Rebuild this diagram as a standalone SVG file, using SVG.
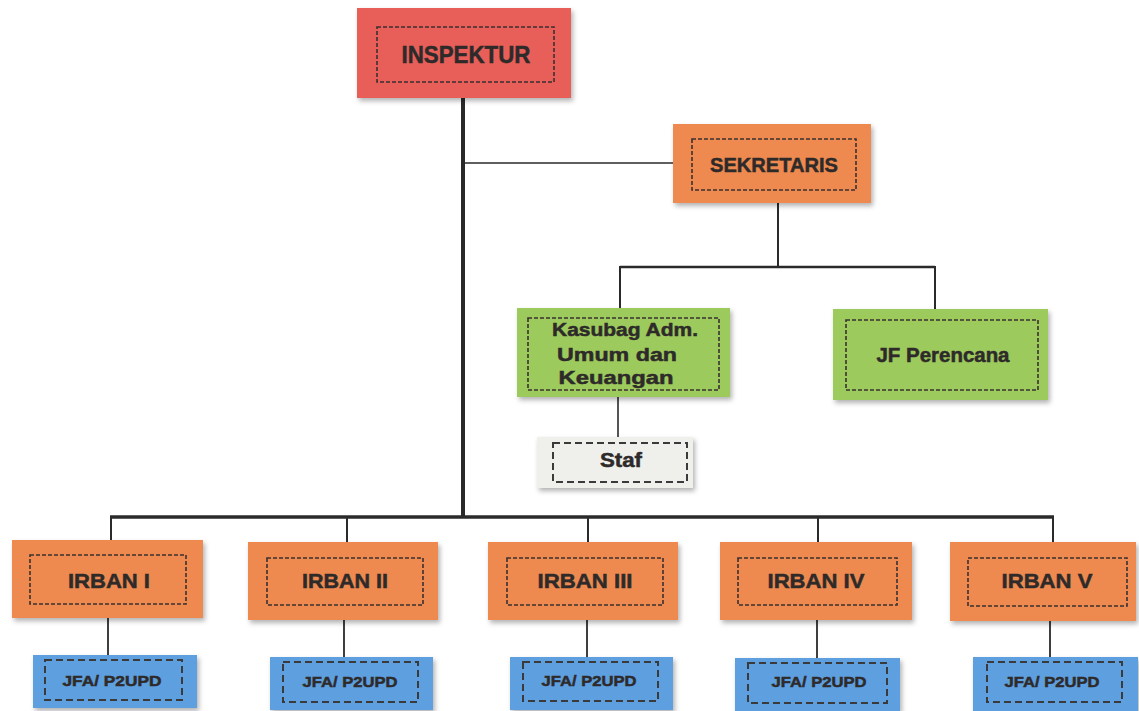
<svg xmlns="http://www.w3.org/2000/svg" width="1139" height="711" viewBox="0 0 1139 711">
<defs>
<filter id="sh" x="-10%" y="-15%" width="125%" height="140%">
<feDropShadow dx="2" dy="3" stdDeviation="2.5" flood-color="#000" flood-opacity="0.3"/>
</filter>
<style>
.red{fill:#e75e58;filter:url(#sh)}
.org{fill:#ee8a50;filter:url(#sh)}
.grn{fill:#9dca5c;filter:url(#sh)}
.blu{fill:#5d9fdf;filter:url(#sh)}
.gry{fill:#efefec;filter:url(#sh)}
.in{fill:none;stroke:#3a3030;stroke-width:1.6;stroke-dasharray:4 2}
.in2{fill:none;stroke:#3a3a3a;stroke-width:2;stroke-dasharray:7 4}
.t{font-family:"Liberation Sans",Arial,sans-serif;font-weight:bold;fill:#2e2a2a;stroke:#2e2a2a;stroke-width:0.5;text-anchor:middle}
.c{stroke:#2a2a2a;fill:none}
</style>
</defs>
<rect width="1139" height="711" fill="#ffffff"/>
<g id="connectors">
<line class="c" x1="463" y1="98" x2="463" y2="518" stroke-width="4"/>
<line class="c" x1="463" y1="163" x2="673" y2="163" stroke-width="1.6"/>
<line class="c" x1="778" y1="203" x2="778" y2="267" stroke-width="2"/>
<line class="c" x1="620" y1="267" x2="935" y2="267" stroke-width="2.5"/>
<line class="c" x1="620" y1="266" x2="620" y2="309" stroke-width="2"/>
<line class="c" x1="935" y1="266" x2="935" y2="309" stroke-width="2"/>
<line class="c" x1="618" y1="397" x2="618" y2="438" stroke-width="1.6"/>
<line class="c" x1="110" y1="517" x2="1054" y2="517" stroke-width="3.5"/>
<line class="c" x1="111" y1="516" x2="111" y2="541" stroke-width="2"/>
<line class="c" x1="347" y1="516" x2="347" y2="542" stroke-width="2"/>
<line class="c" x1="588" y1="516" x2="588" y2="542" stroke-width="2"/>
<line class="c" x1="818" y1="516" x2="818" y2="542" stroke-width="2"/>
<line class="c" x1="1053" y1="516" x2="1053" y2="542" stroke-width="2"/>
<line class="c" x1="108" y1="618" x2="108" y2="655" stroke-width="1.8"/>
<line class="c" x1="344" y1="620" x2="344" y2="657" stroke-width="1.8"/>
<line class="c" x1="587" y1="620" x2="587" y2="657" stroke-width="1.8"/>
<line class="c" x1="817" y1="620" x2="817" y2="658" stroke-width="1.8"/>
<line class="c" x1="1050" y1="621" x2="1050" y2="657" stroke-width="1.8"/>
</g>
<g id="inspektur">
<rect class="red" x="357" y="8" width="214" height="90"/>
<rect class="in" x="377" y="27" width="177" height="55"/>
<text class="t" x="466" y="63" font-size="24" textLength="129" lengthAdjust="spacingAndGlyphs">INSPEKTUR</text>
</g>
<g id="sekretaris">
<rect class="org" x="673" y="124" width="198" height="79"/>
<rect class="in" x="692" y="139" width="164" height="51"/>
<text class="t" x="774" y="172" font-size="21" textLength="128" lengthAdjust="spacingAndGlyphs">SEKRETARIS</text>
</g>
<g id="kasubag">
<rect class="grn" x="517" y="308" width="213" height="89"/>
<rect class="in" x="528" y="318" width="191" height="72"/>
<text class="t" x="625" y="336" font-size="19" textLength="146" lengthAdjust="spacingAndGlyphs">Kasubag Adm.</text>
<text class="t" x="617" y="361" font-size="19" textLength="120" lengthAdjust="spacingAndGlyphs">Umum dan</text>
<text class="t" x="616" y="384" font-size="19" textLength="115" lengthAdjust="spacingAndGlyphs">Keuangan</text>
</g>
<g id="jf-perencana">
<rect class="grn" x="833" y="309" width="215" height="91"/>
<rect class="in" x="846" y="320" width="192" height="70"/>
<text class="t" x="943" y="362" font-size="20" textLength="133" lengthAdjust="spacingAndGlyphs">JF Perencana</text>
</g>
<g id="staf">
<rect class="gry" x="537" y="437" width="156" height="51"/>
<rect class="in2" x="553" y="443" width="134" height="39"/>
<text class="t" x="621" y="467" font-size="20" textLength="42" lengthAdjust="spacingAndGlyphs">Staf</text>
</g>
<g id="irban-1">
<rect class="org" x="12" y="540" width="191" height="78"/>
<rect class="in" x="30" y="555" width="156" height="49"/>
<text class="t" x="109" y="588" font-size="20" textLength="82" lengthAdjust="spacingAndGlyphs">IRBAN I</text>
</g>
<g id="irban-2">
<rect class="org" x="248" y="542" width="190" height="78"/>
<rect class="in" x="267" y="558" width="156" height="47"/>
<text class="t" x="345" y="588" font-size="20" textLength="86" lengthAdjust="spacingAndGlyphs">IRBAN II</text>
</g>
<g id="irban-3">
<rect class="org" x="488" y="542" width="190" height="78"/>
<rect class="in" x="507" y="558" width="156" height="47"/>
<text class="t" x="585" y="588" font-size="20" textLength="95" lengthAdjust="spacingAndGlyphs">IRBAN III</text>
</g>
<g id="irban-4">
<rect class="org" x="720" y="542" width="192" height="78"/>
<rect class="in" x="738" y="558" width="159" height="47"/>
<text class="t" x="816" y="588" font-size="20" textLength="97" lengthAdjust="spacingAndGlyphs">IRBAN IV</text>
</g>
<g id="irban-5">
<rect class="org" x="950" y="542" width="186" height="79"/>
<rect class="in" x="968" y="558" width="159" height="48"/>
<text class="t" x="1047" y="588" font-size="20" textLength="91" lengthAdjust="spacingAndGlyphs">IRBAN V</text>
</g>
<g id="jfa-1">
<rect class="blu" x="33" y="655" width="164" height="53"/>
<rect class="in2" x="45" y="660" width="137" height="40"/>
<text class="t" x="112" y="686" font-size="15.5" textLength="99" lengthAdjust="spacingAndGlyphs">JFA/ P2UPD</text>
</g>
<g id="jfa-2">
<rect class="blu" x="270" y="657" width="163" height="53"/>
<rect class="in2" x="283" y="662" width="135" height="40"/>
<text class="t" x="350" y="687" font-size="15.5" textLength="95" lengthAdjust="spacingAndGlyphs">JFA/ P2UPD</text>
</g>
<g id="jfa-3">
<rect class="blu" x="510" y="657" width="163" height="53"/>
<rect class="in2" x="523" y="662" width="135" height="39"/>
<text class="t" x="589" y="686" font-size="15.5" textLength="95" lengthAdjust="spacingAndGlyphs">JFA/ P2UPD</text>
</g>
<g id="jfa-4">
<rect class="blu" x="735" y="658" width="165" height="53"/>
<rect class="in2" x="748" y="663" width="139" height="40"/>
<text class="t" x="819" y="687" font-size="15.5" textLength="95" lengthAdjust="spacingAndGlyphs">JFA/ P2UPD</text>
</g>
<g id="jfa-5">
<rect class="blu" x="973" y="657" width="165" height="54"/>
<rect class="in2" x="987" y="662" width="135" height="40"/>
<text class="t" x="1052" y="687" font-size="15.5" textLength="95" lengthAdjust="spacingAndGlyphs">JFA/ P2UPD</text>
</g>
</svg>
